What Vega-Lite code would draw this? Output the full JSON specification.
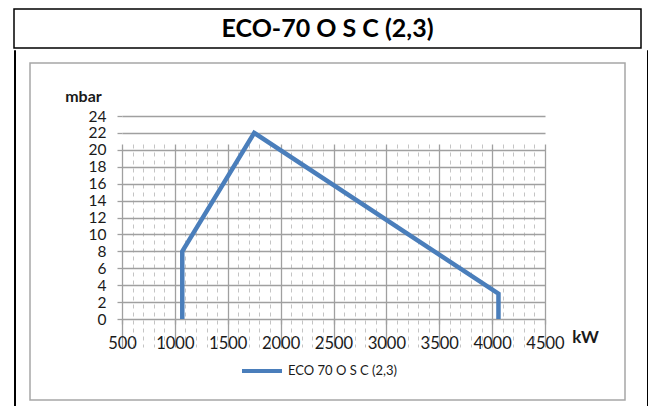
{
  "$schema": "https://vega.github.io/schema/vega-lite/v6.json",
  "padding": {"left": 13, "top": 8, "right": 0, "bottom": 0},
  "spacing": 0,
  "config": {
    "view": {"stroke": null},
    "font": "Lato",
    "axis": {"labelFont": "Lato", "titleFont": "Lato", "labelFlush": false},
    "legend": {"labelFont": "Lato"}
  },
  "vconcat": [
    {
      "width": 627,
      "height": 39,
      "view": {"stroke": "#000000", "strokeWidth": 1.5},
      "data": {"values": [{"label": "ECO-70 O S C  (2,3)"}]},
      "mark": {"type": "text", "font": "Lato", "fontSize": 25, "fontWeight": "bold", "color": "#000000"},
      "encoding": {"text": {"field": "label", "type": "nominal"}}
    },
    {
      "spacing": 13,
      "hconcat": [
        {
          "width": 1,
          "height": 358,
          "view": {"stroke": "#000000", "strokeWidth": 1},
          "data": {"values": []},
          "mark": "point"
        },
        {
          "spacing": 20,
          "hconcat": [
            {
              "spacing": 11,
              "vconcat": [
                {
                  "width": 595,
                  "height": 1,
                  "data": {"values": []},
                  "mark": "point"
                },
                {
                  "width": 595,
                  "height": 337,
                  "view": {"stroke": "#a6a6a6", "strokeWidth": 1.5},
                  "data": {
                    "values": [
                      {"i": 1, "kW": 1070, "mbar": 0, "series": "ECO 70 O S C (2,3)"},
                      {"i": 2, "kW": 1070, "mbar": 8, "series": "ECO 70 O S C (2,3)"},
                      {"i": 3, "kW": 1750, "mbar": 22, "series": "ECO 70 O S C (2,3)"},
                      {"i": 4, "kW": 4060, "mbar": 3, "series": "ECO 70 O S C (2,3)"},
                      {"i": 5, "kW": 4060, "mbar": 0, "series": "ECO 70 O S C (2,3)"}
                    ]
                  },
                  "resolve": {"axis": {"x": "independent"}},
                  "layer": [
                    {
                      "mark": {"type": "line", "opacity": 0},
                      "encoding": {
                        "x": {
                          "field": "kW", "type": "quantitative",
                          "scale": {"domain": [500, 4500], "range": [92, 515], "nice": false, "zero": false},
                          "axis": {
                            "orient": "bottom", "offset": -81,
                            "values": [600,700,800,900,1100,1200,1300,1400,1600,1700,1800,1900,2100,2200,2300,2400,2600,2700,2800,2900,3100,3200,3300,3400,3600,3700,3800,3900,4100,4200,4300,4400],
                            "grid": true, "gridColor": "#c4c4c4", "gridWidth": 1, "gridDash": [4, 4],
                            "labels": false, "ticks": false, "domain": false, "title": null
                          }
                        },
                        "y": {
                          "field": "mbar", "type": "quantitative",
                          "scale": {"domain": [0, 24], "range": [256, 53], "nice": false, "zero": false},
                          "axis": {
                            "orient": "left", "offset": -92,
                            "values": [0, 2, 4, 6, 8, 10, 12, 14, 16, 18, 20, 22, 24], "format": "d",
                            "grid": true, "gridColor": "#a0a0a0", "gridWidth": 1.3,
                            "domain": false, "ticks": true, "tickSize": 5, "tickColor": "#a0a0a0", "tickWidth": 1.3,
                            "labelFontSize": 15.5, "labelColor": "#1a1a1a", "labelPadding": 11, "labelOverlap": false,
                            "title": "mbar", "titleFontSize": 16, "titleFontWeight": "bold", "titleColor": "#1a1a1a",
                            "titleAngle": 0, "titleX": -39, "titleY": 33, "titleAlign": "center", "titleBaseline": "middle"
                          }
                        },
                        "order": {"field": "i"}
                      }
                    },
                    {
                      "mark": {"type": "line", "strokeWidth": 4.5, "strokeJoin": "miter"},
                      "encoding": {
                        "x": {
                          "field": "kW", "type": "quantitative",
                          "scale": {"domain": [500, 4500], "range": [92, 515], "nice": false, "zero": false},
                          "axis": {
                            "orient": "bottom", "offset": -81,
                            "values": [500, 1000, 1500, 2000, 2500, 3000, 3500, 4000, 4500], "format": "d",
                            "grid": true, "gridColor": "#a0a0a0", "gridWidth": 1.3,
                            "domain": false, "ticks": true, "tickSize": 5, "tickColor": "#a0a0a0", "tickWidth": 1.3,
                            "labelFontSize": 16.5, "labelColor": "#1a1a1a", "labelPadding": 11, "labelOverlap": false,
                            "title": "kW", "titleFontSize": 17, "titleFontWeight": "bold", "titleColor": "#1a1a1a",
                            "titleX": 555, "titleY": 18, "titleAlign": "center", "titleBaseline": "middle"
                          }
                        },
                        "y": {
                          "field": "mbar", "type": "quantitative",
                          "scale": {"domain": [0, 24], "range": [256, 53], "nice": false, "zero": false},
                          "axis": {
                            "orient": "left", "offset": -92,
                            "values": [0, 2, 4, 6, 8, 10, 12, 14, 16, 18, 20, 22, 24], "format": "d",
                            "grid": true, "gridColor": "#a0a0a0", "gridWidth": 1.3,
                            "domain": false, "ticks": true, "tickSize": 5, "tickColor": "#a0a0a0", "tickWidth": 1.3,
                            "labelFontSize": 15.5, "labelColor": "#1a1a1a", "labelPadding": 11, "labelOverlap": false,
                            "title": "mbar", "titleFontSize": 16, "titleFontWeight": "bold", "titleColor": "#1a1a1a",
                            "titleAngle": 0, "titleX": -39, "titleY": 33, "titleAlign": "center", "titleBaseline": "middle"
                          }
                        },
                        "color": {
                          "field": "series", "type": "nominal",
                          "scale": {"range": ["#4a7ebb"]},
                          "legend": {
                            "orient": "none", "legendX": 226, "legendY": 340, "title": null,
                            "symbolType": "stroke", "symbolSize": 1600, "symbolStrokeWidth": 4,
                            "labelFontSize": 13, "labelColor": "#1a1a1a", "labelOffset": 4
                          }
                        },
                        "order": {"field": "i"}
                      }
                    }
                  ]
                }
              ]
            },
            {
              "width": 1,
              "height": 358,
              "view": {"stroke": "#000000", "strokeWidth": 1},
              "data": {"values": []},
              "mark": "point"
            }
          ]
        }
      ]
    }
  ]
}
